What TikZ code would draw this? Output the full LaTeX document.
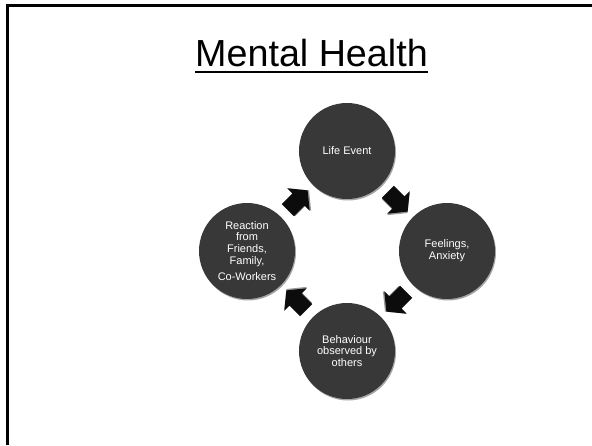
\documentclass[tikz,border=0pt]{standalone}
\usepackage{fontspec}
\setmainfont{Liberation Sans}
\usepackage{tikz}
\usepackage{xcolor}
\tikzset{>=latex}
\usetikzlibrary{calc,shadows}

\definecolor{bubblegray}{RGB}{56,56,56}
\definecolor{arrowblack}{RGB}{12,12,12}

\tikzset{
  bubble/.style={circle, fill=bubblegray, minimum size=96pt, inner sep=0pt,
    align=center, text=white, font=\fontsize{11}{11.7}\selectfont,
    drop shadow={shadow xshift=1pt, shadow yshift=-1.5pt, fill=black!35, opacity=1}},
  turnarrow/.pic={
    \fill[black!40] (-12, -9.5) -- (3, -9.5) -- (3, -17) -- (16, -1) -- (3, 15) -- (3, 7.5) -- (-12, 7.5) -- cycle;
    \fill[arrowblack] (-13, -8.5) -- (2, -8.5) -- (2, -16) -- (15, 0) -- (2, 16) -- (2, 8.5) -- (-13, 8.5) -- cycle;
  }
}

\begin{document}
\begin{tikzpicture}[x=1pt, y=1pt]
      \useasboundingbox (0, 0) rectangle (592, 445);
      \draw[line width=3pt] (7.5, 0) -- (7.5, 439) -- (592, 439);
      % title, underlined by hand
      \node[inner sep=0pt, anchor=base, font=\fontsize{37.7}{40}\selectfont] (title) at (311.5, 378) {Mental Health};
      \draw[line width=2pt] ($(title.base west) + (0, -5)$) -- ($(title.base east) + (0, -5)$);
      % the cycle
      \coordinate (hub) at (347, 194);
      \node[bubble] (life) at ($(hub) + (90:100)$) {Life Event};
      \node[bubble] (feel) at ($(hub) + (0:100)$) {Feelings,\\Anxiety};
      \node[bubble] (behav) at ($(hub) + (-90:100)$) {Behaviour\\observed by\\others};
      \node[bubble] (react) at ($(hub) + (180:100)$) {Reaction\\from\\Friends,\\Family,\\[5pt]Co-Workers};
      \pic[rotate=-45] at ($(life)!0.5!(feel)$) {turnarrow};
      \pic[rotate=-135] at ($(feel)!0.5!(behav)$) {turnarrow};
      \pic[rotate=135] at ($(behav)!0.5!(react)$) {turnarrow};
      \pic[rotate=45] at ($(react)!0.5!(life)$) {turnarrow};
    \end{tikzpicture}
\end{document}
